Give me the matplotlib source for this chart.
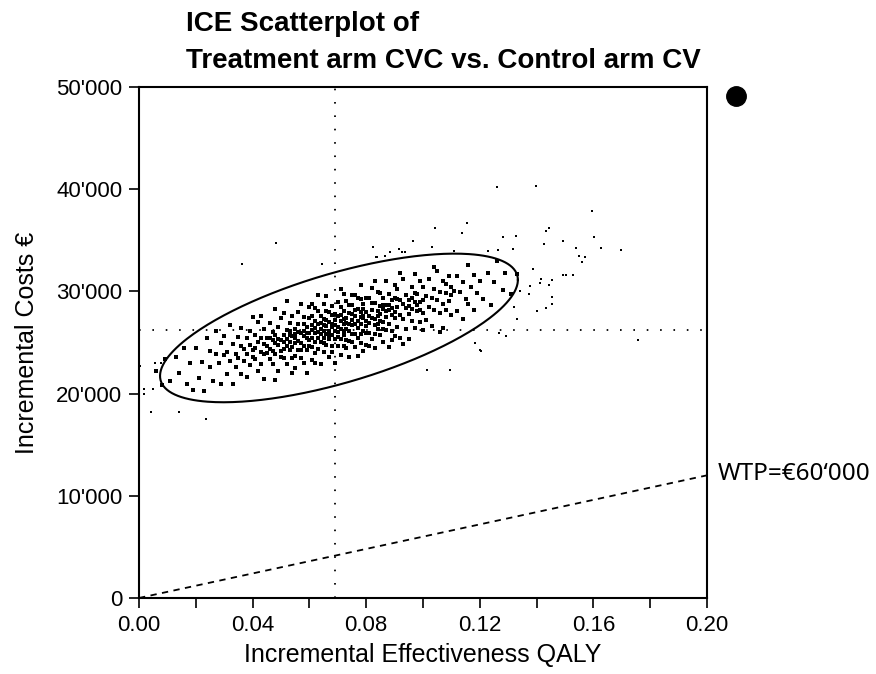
import numpy as np
import matplotlib
matplotlib.use("Agg")
import matplotlib.pyplot as plt
from matplotlib.ticker import MultipleLocator, FuncFormatter

# ---------------------------------------------------------------------------
# Data
# ---------------------------------------------------------------------------
# simulated ICE pairs inside / around the confidence ellipse
cloud_qaly = [
    0.006, 0.008, 0.009, 0.011, 0.013, 0.014, 0.016, 0.017, 0.018, 0.019,
    0.020, 0.021, 0.022, 0.023, 0.024, 0.025, 0.025, 0.026, 0.027, 0.027,
    0.028, 0.029, 0.029, 0.030,
    0.030, 0.031, 0.031, 0.032, 0.032, 0.033, 0.033, 0.034, 0.034, 0.035,
    0.035, 0.036, 0.036, 0.036, 0.037, 0.037, 0.038, 0.038, 0.038, 0.039,
    0.039, 0.039, 0.040, 0.040, 0.040,
    0.041, 0.041, 0.041, 0.042, 0.042, 0.042, 0.043, 0.043, 0.043, 0.044,
    0.044, 0.044, 0.045, 0.045, 0.045, 0.046, 0.046, 0.046, 0.047, 0.047,
    0.047, 0.047, 0.048, 0.048, 0.048, 0.048, 0.049, 0.049, 0.049, 0.049,
    0.050, 0.050, 0.050, 0.050, 0.044, 0.046, 0.043, 0.048,
    0.051, 0.051, 0.051, 0.051, 0.052, 0.052, 0.052, 0.052, 0.053, 0.053,
    0.053, 0.053, 0.054, 0.054, 0.054, 0.054, 0.055, 0.055, 0.055, 0.055,
    0.056, 0.056, 0.056, 0.056, 0.057, 0.057, 0.057, 0.057, 0.058, 0.058,
    0.058, 0.058, 0.059, 0.059, 0.059, 0.059, 0.060, 0.060, 0.060, 0.060,
    0.052, 0.054, 0.056, 0.058, 0.051, 0.053, 0.055, 0.057, 0.059, 0.060,
    0.055, 0.058,
    0.061, 0.061, 0.061, 0.061, 0.061, 0.061, 0.062, 0.062, 0.062, 0.062,
    0.062, 0.063, 0.063, 0.063, 0.063, 0.063, 0.064, 0.064, 0.064, 0.064,
    0.064, 0.065, 0.065, 0.065, 0.065, 0.065, 0.066, 0.066, 0.066, 0.066,
    0.066, 0.067, 0.067, 0.067, 0.067, 0.067, 0.068, 0.068, 0.068, 0.068,
    0.068, 0.069, 0.069, 0.069, 0.069, 0.069, 0.070, 0.070, 0.070, 0.070,
    0.070, 0.061, 0.062, 0.063, 0.064, 0.065, 0.066, 0.067, 0.068, 0.069,
    0.070, 0.062, 0.065, 0.068,
    0.071, 0.071, 0.071, 0.071, 0.071, 0.072, 0.072, 0.072, 0.072, 0.072,
    0.073, 0.073, 0.073, 0.073, 0.074, 0.074, 0.074, 0.074, 0.075, 0.075,
    0.075, 0.075, 0.076, 0.076, 0.076, 0.076, 0.077, 0.077, 0.077, 0.077,
    0.078, 0.078, 0.078, 0.078, 0.079, 0.079, 0.079, 0.079, 0.080, 0.080,
    0.080, 0.080, 0.071, 0.072, 0.073, 0.074, 0.075, 0.076, 0.077, 0.078,
    0.079, 0.080, 0.073, 0.075, 0.077, 0.079, 0.071, 0.074, 0.076, 0.078,
    0.080, 0.072, 0.075, 0.078,
    0.081, 0.081, 0.081, 0.081, 0.082, 0.082, 0.082, 0.082, 0.083, 0.083,
    0.083, 0.083, 0.084, 0.084, 0.084, 0.084, 0.085, 0.085, 0.085, 0.085,
    0.086, 0.086, 0.086, 0.086, 0.087, 0.087, 0.087, 0.087, 0.088, 0.088,
    0.088, 0.088, 0.089, 0.089, 0.089, 0.089, 0.090, 0.090, 0.090, 0.090,
    0.081, 0.083, 0.085, 0.087, 0.089, 0.082, 0.084, 0.086, 0.088, 0.090,
    0.083, 0.086,
    0.091, 0.091, 0.091, 0.092, 0.092, 0.092, 0.093, 0.093, 0.093, 0.094,
    0.094, 0.094, 0.095, 0.095, 0.095, 0.096, 0.096, 0.096, 0.097, 0.097,
    0.097, 0.098, 0.098, 0.098, 0.099, 0.099, 0.099, 0.100, 0.100, 0.100,
    0.091, 0.093, 0.095, 0.097, 0.099, 0.092, 0.096, 0.100,
    0.101, 0.101, 0.102, 0.102, 0.103, 0.103, 0.104, 0.104, 0.105, 0.105,
    0.106, 0.106, 0.107, 0.107, 0.107, 0.108, 0.108, 0.109, 0.109, 0.110,
    0.110, 0.104, 0.106, 0.108, 0.110,
    0.111, 0.112, 0.112, 0.113, 0.114, 0.114, 0.115, 0.116, 0.116, 0.117,
    0.118, 0.118, 0.119, 0.120,
    0.121, 0.123, 0.124, 0.125, 0.126, 0.128, 0.129, 0.131, 0.133,
]
cloud_cost = [
    22220, 20870, 23340, 21190, 23540, 22020, 24460, 20940, 23010, 20390,
    24460, 21540, 23110, 20290, 25460, 22640, 24140, 21210, 23880, 26080,
    22960, 24930, 20930, 23810,
    25610, 21880, 24080, 23160, 26660, 24830, 20930, 23910, 22610, 25580,
    23480, 24660, 21960, 26460, 23230, 24330, 25400, 21600, 23900, 26080,
    22780, 24780, 23550, 27450, 24250,
    25730, 23430, 24430, 22200, 25000, 27000, 24080, 25480, 22880, 24850,
    21450, 26350, 23930, 25430, 24630, 23400, 26900, 24400, 25280, 22880,
    25980, 24180, 28250, 24950, 23850, 25750, 22230, 25330, 24730, 26530,
    23600, 25200, 27400, 24200, 23850, 25400, 27580, 21350,
    25770, 23470, 25070, 27870, 24650, 26250, 22850, 25350, 24220, 26920,
    25020, 25720, 23500, 25600, 27600, 24600, 26270, 24970, 22470, 25470,
    26850, 24250, 26050, 25150, 28720, 24920, 25920, 23520, 25600, 26800,
    24700, 27500, 24270, 25970, 21970, 26470, 25250, 27350, 24650, 25950,
    29050, 22000, 27950, 23000, 24370, 26120, 25870, 24220, 25470, 28450,
    23670, 26100,
    26220, 24520, 27620, 25420, 28720, 23320, 25890, 25090, 27090, 23990,
    26390, 25470, 28070, 26070, 24370, 26770, 25840, 22940, 27540, 26340,
    25040, 26720, 25420, 28720, 24020, 26120, 27190, 25790, 24790, 29590,
    26590, 25370, 27970, 26170, 23570, 26970, 25740, 27640, 26540, 24640,
    28540, 26120, 27220, 23020, 26720, 25320, 27590, 25990, 28990, 24690,
    26490, 26720, 22990, 29670, 26940, 24920, 28090, 25770, 24040, 27820,
    25490, 28390, 27320, 26840,
    27070, 25370, 28470, 26270, 23770, 26840, 25740, 28040, 29740, 24640,
    26310, 27410, 25210, 29010, 26790, 26090, 27890, 23590, 27160, 25060,
    28660, 26660, 27540, 25840, 29640, 24540, 27110, 26410, 28310, 25410,
    27990, 26790, 30590, 24990, 27560, 26160, 28760, 24160, 27140, 29340,
    25940, 27940, 27670, 26140, 26910, 28690, 25860, 26840, 29310, 25790,
    27360, 24740, 24410, 27760, 23710, 28260, 30270, 25190, 28140, 27490,
    26640, 27340, 29660, 29290,
    27610, 25910, 29310, 26910, 28190, 25290, 27390, 30290, 26660, 28860,
    27260, 24460, 28030, 26330, 29930, 27630, 27110, 28610, 25710, 27810,
    29380, 26980, 25080, 28280, 27460, 31060, 28660, 26260, 28130, 26830,
    29730, 24530, 27710, 29110, 26110, 28410, 27380, 30580, 27980, 25680,
    24610, 31060, 29810, 28060, 25210, 28890, 26830, 28680, 28630, 29380,
    25860, 26280,
    28460, 26560, 30260, 27730, 29130, 25430, 28810, 27310, 31210, 28380,
    26280, 29680, 27750, 29150, 25350, 30430, 28230, 27130, 29000, 31700,
    26400, 28080, 29780, 28680, 27050, 31050, 28950, 27930, 30430, 26230,
    29260, 24810, 28550, 29800, 28150, 31830, 29330, 29130,
    29500, 27200, 31180, 28480, 29350, 26650, 30230, 28130, 29200, 32000,
    27870, 29970, 28750, 31050, 26450, 29820, 28220, 31500, 29100, 27670,
    30470, 32430, 26070, 30720, 29670,
    30050, 28120, 31520, 29900, 27270, 30870, 29250, 32620, 28720, 30390,
    28170, 31570, 29840, 31020,
    29290, 31840, 28620, 30890, 32970, 30110, 31790, 29740, 31690,
]

# scattered replicates well outside the ellipse
outlier_qaly = [
    0.1397, 0.1596, 0.1433, 0.1444, 0.1427, 0.1493, 0.1601, 0.1539, 0.1626,
    0.1697, 0.1548, 0.1569, 0.1560, 0.1386, 0.1493, 0.1504, 0.1529, 0.1417,
    0.1413, 0.1453, 0.1444, 0.1378, 0.1342, 0.1372, 0.1453, 0.1453, 0.1401,
    0.1433, 0.1757, 0.1261, 0.1042, 0.1154, 0.1137, 0.1282, 0.1327, 0.1230,
    0.1265, 0.1317, 0.1031, 0.1108, 0.1321, 0.1332, 0.1205, 0.1184, 0.1292,
    0.1269, 0.0482, 0.0823, 0.0833, 0.0885, 0.0915, 0.0927, 0.0937, 0.0966,
    0.0362, 0.0643, 0.0837, 0.0866, 0.1013, 0.1095, 0.1201,
    0.0042, 0.0141, 0.0236, 0.0018, 0.0018, 0.0005, 0.0056, 0.0076, 0.0050,
]
outlier_cost = [
    40315, 37840, 35940, 36240, 34640, 34900, 35290, 34220, 34220,
    34050, 33500, 33370, 32850, 32190, 31640, 31640, 31640, 31250,
    30820, 31120, 30660, 30560, 30010, 29750, 29480, 28770, 28110,
    28380, 25250, 40190, 36240, 36660, 35710, 35290, 35420, 33950,
    34050, 34120, 34380, 33950, 28500, 27270, 24170, 24980, 25600,
    25900, 34740, 34310, 33370, 33830, 34190, 33830, 33830, 34900,
    32680, 32680, 33400, 33460, 22310, 22310, 24270,
    18200, 18200, 17510, 19930, 20420, 22700, 23020, 23020, 20420,
]

# mean incremental effects / costs (dotted cross-hair)
mean_qaly = 0.069
mean_cost = 26200

# 95% confidence ellipse: centre and conjugate semi-diameters
ell_center = (0.0704, 26420)
ell_semi_x = 0.0630      # horizontal reach of the ellipse
ell_semi_y_tilt = 4697   # cost rise at the rightmost point
ell_semi_y = 5550        # vertical half height at the centre

wtp = 60000
wtp_label = "WTP=\u20ac60\u2018000"

# the stray marker in the top right corner of the picture
stray_dot = (0.2102, 49100)

x_ticks = [0.00, 0.04, 0.08, 0.12, 0.16, 0.20]
y_ticks = [0, 10000, 20000, 30000, 40000, 50000]


def cost_fmt(v, pos):
    v = int(round(v))
    if v == 0:
        return "0"
    return f"{v // 1000}'000"


plt.rcParams["font.family"] = ["Liberation Sans", "DejaVu Sans"]

fig = plt.figure(figsize=(8.76, 6.74), dpi=100)
ax = fig.add_axes([0.1587, 0.1128, 0.6484, 0.7582])

ax.set_xlim(0, 0.20)
ax.set_ylim(0, 50000)

# dotted cross-hair through the means
dot_style = dict(color="black", lw=1.3, linestyle=(0, (0.9, 6.5)), zorder=1)
ax.axvline(mean_qaly, **dot_style)
ax.axhline(mean_cost, **dot_style)

# scatter of simulations
ax.scatter(cloud_qaly, cloud_cost, s=5.0, marker="s", color="black",
           linewidths=0, zorder=2)
ax.scatter(outlier_qaly, outlier_cost, s=3.5, marker="s", color="black",
           linewidths=0, zorder=2)

# confidence ellipse
t = np.linspace(0, 2 * np.pi, 300)
ex = ell_center[0] + ell_semi_x * np.cos(t)
ey = ell_center[1] + ell_semi_y_tilt * np.cos(t) + ell_semi_y * np.sin(t)
ax.plot(ex, ey, color="black", lw=1.5, zorder=3)

# willingness-to-pay threshold
xs = np.array(ax.get_xlim())
ax.plot(xs, wtp * xs, color="black", lw=1.3, linestyle=(0, (3.5, 3.0)),
        zorder=3)
ax.annotate(wtp_label, xy=(xs[1], wtp * xs[1]), xytext=(8, 1),
            textcoords="offset points", ha="left", va="center",
            fontsize=17.5, family=["Noto Sans", "DejaVu Sans"],
            annotation_clip=False)

ax.plot([stray_dot[0]], [stray_dot[1]], "o", color="black", ms=14,
        clip_on=False)

# axes cosmetics
ax.set_xticks(x_ticks)
ax.xaxis.set_minor_locator(MultipleLocator(0.02))
ax.xaxis.set_major_formatter(FuncFormatter(lambda v, p: f"{v:.2f}"))
ax.set_yticks(y_ticks)
ax.yaxis.set_major_formatter(FuncFormatter(cost_fmt))
ax.tick_params(axis="both", which="both", direction="out", length=7,
               width=1.2, labelsize=16, pad=5, color="black")
ax.tick_params(axis="x", which="minor", length=7)
for sp in ax.spines.values():
    sp.set_linewidth(1.5)

ax.set_xlabel("Incremental Effectiveness QALY", fontsize=18, labelpad=5)
ax.set_ylabel("Incremental Costs \u20ac", fontsize=18, labelpad=12)

fig.text(0.2123, 1 - 31 / 674, "ICE Scatterplot of", fontsize=20,
         fontweight="bold", ha="left", va="baseline")
fig.text(0.2123, 1 - 68 / 674, "Treatment arm CVC vs. Control arm CV",
         fontsize=20, fontweight="bold", ha="left", va="baseline")

fig.savefig("out.png", dpi=100)
